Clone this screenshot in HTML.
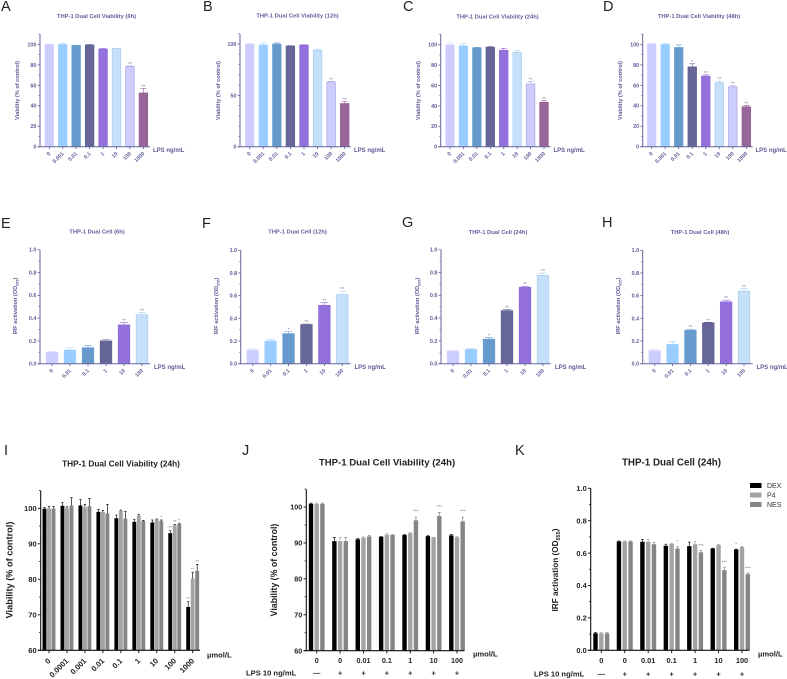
<!DOCTYPE html>
<html lang="en">
<head>
<meta charset="utf-8">
<title>THP-1 Dual Cell Viability and IRF Activation</title>
<style>
html,body{margin:0;padding:0;background:#fff;}
#figure{display:block;width:787px;height:679px;filter:blur(0.3px);font-family:"Liberation Sans",sans-serif;}
.letter{font-size:14.5px;fill:#222;}
.ttl{font-weight:bold;fill:#5f5f9b;font-size:5.8px;text-anchor:middle;}
.ttl2{font-weight:bold;fill:#222;text-anchor:middle;}
</style>
</head>
<body>
<svg id="figure" xmlns="http://www.w3.org/2000/svg" width="787" height="679" viewBox="0 0 787 679">
  <g>
    <text class="letter" x="1" y="11">A</text>
    <text class="letter" x="203" y="11">B</text>
    <text class="letter" x="403" y="11">C</text>
    <text class="letter" x="603" y="11">D</text>
    <text class="letter" x="1" y="228">E</text>
    <text class="letter" x="202" y="228">F</text>
    <text class="letter" x="402" y="227">G</text>
    <text class="letter" x="602" y="227">H</text>
    <text class="letter" x="4" y="455">I</text>
    <text class="letter" x="242" y="455">J</text>
    <text class="letter" x="515" y="455">K</text>
  </g>
  <g>
    <text class="ttl" x="96.5" y="17.8">THP-1 Dual Cell Viability (6h)</text>
    <text class="ttl" x="297.5" y="17.3">THP-1 Dual Cell Viability (12h)</text>
    <text class="ttl" x="497.5" y="18.3">THP-1 Dual Cell Viability (24h)</text>
    <text class="ttl" x="699" y="17.8">THP-1 Dual Cell Viability (48h)</text>
    <text class="ttl" x="97" y="233.3">THP-1 Dual Cell (6h)</text>
    <text class="ttl" x="297.5" y="233.3">THP-1 Dual Cell (12h)</text>
    <text class="ttl" x="498" y="233.8">THP-1 Dual Cell (24h)</text>
    <text class="ttl" x="700" y="233.8">THP-1 Dual Cell (48h)</text>
    <text class="ttl2" x="121" y="466.6" font-size="8.3">THP-1 Dual Cell Viability (24h)</text>
    <text class="ttl2" x="387" y="465.4" font-size="9.6">THP-1 Dual Cell Viability (24h)</text>
    <text class="ttl2" x="671.5" y="465.4" font-size="9.8">THP-1 Dual Cell (24h)</text>
  </g>
  <g>
    <rect x="750" y="483" width="11.5" height="5" fill="#000"/>
    <text x="767" y="488" font-size="7" fill="#333">DEX</text>
    <rect x="750" y="492.5" width="11.5" height="5" fill="#a3a3a3"/>
    <text x="767" y="497.5" font-size="7" fill="#333">P4</text>
    <rect x="750" y="502" width="11.5" height="5" fill="#858585"/>
    <text x="767" y="507" font-size="7" fill="#333">NES</text>
  </g>
  <g id="charts"></g>
</svg>
<script>
// Categories
const viabilityDoses = ['0', '0.001', '0.01', '0.1', '1', '10', '100', '1000'];
const irfDoses = ['0', '0.01', '0.1', '1', '10', '100'];
const drugDoses = ['0', '0.0001', '0.001', '0.01', '0.1', '1', '10', '100', '1000'];
const lpsDoses = ['0', '0', '0.01', '0.1', '1', '10', '100'];
const lpsFlags = ['\u2014', '+', '+', '+', '+', '+', '+'];

// Tick labels
const ticksPct20 = [0, 20, 40, 60, 80, 100];
const ticksPct50 = [0, 50, 100];
const ticksOd = [0, 0.2, 0.4, 0.6, 0.8, 1];
const ticksZoom = [60, 70, 80, 90, 100];

// Panels A-D: viability by LPS dose
const valuesA = [100, 100, 99, 99.5, 95.5, 96, 78.5, 52.5];
const errorsA = [0.2, 1.2, 0.3, 0.4, 0.4, 0.2, 0.5, 4.5];
const starsA = ['', '', '', '', '', '', '**', '**'];
const valuesB = [100, 99, 100, 98, 99, 94, 63, 42];
const errorsB = [0.3, 2, 1, 0.4, 0.4, 1, 0.7, 2];
const starsB = ['', '', '', '', '', '', '**', '**'];
const valuesC = [100, 99, 97, 97.5, 94.5, 92.5, 61.5, 43.5];
const errorsC = [2.5, 2, 0.4, 0.6, 2, 2, 2.5, 1.5];
const starsC = ['', '', '', '', '', '', '**', '**'];
const valuesD = [100.5, 100, 97, 78, 69, 62.5, 58.5, 39];
const errorsD = [0.2, 1, 2.5, 3, 1.3, 1.5, 1.5, 1.5];
const starsD = ['', '', '', '*', '**', '**', '**', '**'];

// Panels E-H: IRF activation by LPS dose
const valuesE = [0.1, 0.12, 0.14, 0.2, 0.34, 0.43];
const errorsE = [0.005, 0.02, 0.02, 0.01, 0.02, 0.02];
const starsE = ['', '', '', '', '**', '**'];
const valuesF = [0.12, 0.2, 0.265, 0.345, 0.515, 0.61];
const errorsF = [0.01, 0.015, 0.02, 0.005, 0.025, 0.03];
const starsF = ['', '', '*', '**', '**', '**'];
const valuesG = [0.11, 0.125, 0.215, 0.465, 0.67, 0.775];
const errorsG = [0.01, 0.01, 0.015, 0.01, 0.01, 0.02];
const starsG = ['', '', '*', '**', '**', '**'];
const valuesH = [0.115, 0.17, 0.295, 0.36, 0.545, 0.64];
const errorsH = [0.01, 0.025, 0.01, 0.005, 0.015, 0.02];
const starsH = ['', '', '**', '**', '**', '**'];

// Panel I: series by drug
const iDex = [99.9, 100.7, 100.8, 99, 97.2, 96.2, 96, 93, 72.2];
const iDexErr = [0.3, 0.9, 1.7, 0.7, 0.9, 0.7, 0.7, 0.7, 1.5];
const iDexStars = ['', '', '', '', '', '', '', '**', '**'];
const iP4 = [99.9, 100, 100.2, 99, 99.3, 97.9, 96.9, 95.2, 80.2];
const iP4Err = [0.6, 0.4, 0.9, 0.4, 0.2, 0.4, 0.1, 0.2, 1.8];
const iP4Stars = ['', '', '', '', '', '', '', '**', '**'];
const iNes = [99.9, 100.8, 100.6, 98.6, 97.1, 96.4, 96.4, 95.6, 82.4];
const iNesErr = [0.6, 2.2, 2.2, 2.5, 2, 0.2, 0.3, 0.2, 1.8];
const iNesStars = ['', '', '', '', '', '', '*', '*', '**'];

// Panel J: series by drug
const jDex = [100.9, 90.5, 91, 91.7, 92.2, 91.9, 92.1];
const jDexErr = [0.2, 1, 0.2, 0.1, 0.2, 0.1, 0.2];
const jDexStars = ['', '', '', '', '', '', ''];
const jP4 = [100.9, 90.5, 91.5, 92.3, 92.7, 91.5, 91.6];
const jP4Err = [0.2, 1, 0.2, 0.3, 0.2, 0.1, 0.2];
const jP4Stars = ['', '', '', '', '', '', ''];
const jNes = [100.9, 90.5, 91.8, 92.2, 96.3, 97.5, 96];
const jNesErr = [0.2, 1, 0.3, 0.1, 0.9, 1, 1.2];
const jNesStars = ['', '', '', '', '***', '***', '***'];

// Panel K: series by drug
const kDex = [0.105, 0.672, 0.67, 0.645, 0.643, 0.628, 0.622];
const kDexErr = [0.005, 0.003, 0.015, 0.01, 0.025, 0.002, 0.002];
const kDexStars = ['', '', '', '', '', '', '*'];
const kP4 = [0.105, 0.672, 0.67, 0.657, 0.655, 0.65, 0.638];
const kP4Err = [0.005, 0.003, 0.015, 0.003, 0.018, 0.003, 0.002];
const kP4Stars = ['', '', '', '', '', '', ''];
const kNes = [0.105, 0.672, 0.655, 0.628, 0.605, 0.495, 0.47];
const kNesErr = [0.005, 0.003, 0.012, 0.012, 0.012, 0.018, 0.007];
const kNesStars = ['', '', '', '*', '***', '***', '***'];

const pastelFills = ['#ccccff', '#99ccff', '#6699cc', '#666699', '#9370db', '#c6e0fa', '#ccccff', '#996699'];
const pastelEdges = ['#d4d4ff', '#a4d2ff', '#6d9fd0', '#5f5f94', '#8d6ad8', '#a9cdf0', '#a8a8e0', '#935f93'];
const NS = 'http://www.w3.org/2000/svg';
const root = document.getElementById('charts');
const PURPLE = '#66669c';
const PURPLE_TEXT = '#5c5c96';

function make(tag, parent, attrs, text) {
  const node = document.createElementNS(NS, tag);
  for (const key in attrs) node.setAttribute(key, attrs[key]);
  if (text !== undefined) node.textContent = text;
  parent.appendChild(node);
  return node;
}
function linearScale(d0, p0, d1, p1) {
  return function (v) { return p0 + (v - d0) * (p1 - p0) / (d1 - d0); };
}
function bandScale(first, last, count) {
  return function (i) { return first + i * (last - first) / (count - 1); };
}
function fmtTick(v, digits) { return v.toFixed(digits); }

function drawAxes(g, cfg, yScale, xScale, cats) {
  const color = cfg.axisColor, tc = cfg.textColor;
  const yAxis = make('line', g, {x1: cfg.axisX, x2: cfg.axisX, y1: cfg.topPx, y2: yScale(cfg.domainMin), stroke: color, 'stroke-width': cfg.axisW});
  
  
  const xAxis = make('line', g, {x1: cfg.axisX - cfg.tickLen, x2: cfg.endX, y1: yScale(cfg.domainMin), y2: yScale(cfg.domainMin), stroke: color, 'stroke-width': cfg.axisW});
  
  
  cfg.ticks.forEach(function (t, idx) {
    const y = yScale(t);
    const tick = make('line', g, {x1: cfg.axisX - cfg.tickLen, x2: cfg.axisX, y1: y, y2: y, stroke: color, 'stroke-width': cfg.axisW * 0.85});
    
    
    const label = make('text', g, {x: cfg.axisX - cfg.tickLen - 1.2, y: y + cfg.tickFont * 0.36, 'font-size': cfg.tickFont, 'font-weight': 'bold', fill: tc, 'text-anchor': 'end'}, fmtTick(t, cfg.tickDigits));
    
    
    if (idx < cfg.ticks.length - 1) {
      const step = (cfg.ticks[idx + 1] - t) / cfg.minorPer;
      for (let m = 1; m < cfg.minorPer; m++) {
        const ym = yScale(t + m * step);
        const minor = make('line', g, {x1: cfg.axisX - cfg.tickLen * 0.6, x2: cfg.axisX, y1: ym, y2: ym, stroke: color, 'stroke-width': cfg.axisW * 0.7});
        
        
      }
    }
  });
  if (cfg.extraMinorTop) {
    const yt = yScale(cfg.extraMinorTop);
    const top = make('line', g, {x1: cfg.axisX - cfg.tickLen * 0.6, x2: cfg.axisX, y1: yt, y2: yt, stroke: color, 'stroke-width': cfg.axisW * 0.7});
    
    
  }
  cats.forEach(function (c, i) {
    const x = xScale(i), y0 = yScale(cfg.domainMin);
    const tick = make('line', g, {x1: x, x2: x, y1: y0, y2: y0 + cfg.tickLen, stroke: color, 'stroke-width': cfg.axisW * 0.85});
    
    
    let label;
    if (cfg.rotateLabels) {
      const lx = x + cfg.rotDx, ly = y0 + cfg.tickLen + cfg.tickFont * 0.9 + cfg.rotDy;
      label = make('text', g, {x: lx, y: ly, 'font-size': cfg.tickFont, 'font-weight': 'bold', fill: tc, 'text-anchor': 'end', transform: 'rotate(-45 ' + lx + ' ' + ly + ')'}, c);
    } else {
      label = make('text', g, {x: x, y: y0 + cfg.tickLen + cfg.tickFont + 2.5, 'font-size': cfg.tickFont, 'font-weight': 'bold', fill: tc, 'text-anchor': 'middle'}, c);
    }
    
    
  });
  const unit = make('text', g, {x: cfg.unitX, y: cfg.unitY, 'font-size': cfg.unitFont, 'font-weight': 'bold', fill: tc}, cfg.unit);
  
  
  const yTitle = make('text', g, {transform: 'translate(' + cfg.yTitleX + ' ' + cfg.yTitleY + ') rotate(-90)', 'font-size': cfg.yTitleFont, 'font-weight': 'bold', fill: tc, 'text-anchor': 'middle'});
  
  
  if (cfg.isOd) {
    make('tspan', yTitle, {}, 'IRF activation (OD');
    make('tspan', yTitle, {'font-size': cfg.yTitleFont * 0.68, dy: cfg.yTitleFont * 0.25}, '655');
    make('tspan', yTitle, {dy: -cfg.yTitleFont * 0.25}, ')');
  } else {
    yTitle.textContent = 'Viability (% of control)';
  }
}

function drawBar(g, x, w, value, err, star, fill, edge, yScale, cfg, barName) {
  const y0 = yScale(cfg.domainMin), y = yScale(value), yErr = yScale(value + err);
  const bar = make('rect', g, {x: x - w / 2, y: y, width: w, height: y0 - y, fill: fill, stroke: edge, 'stroke-width': cfg.barStroke});
  
  
  const capW = w * cfg.capRatio;
  const eb = make('path', g, {d: 'M' + x + ' ' + y + 'V' + yErr + 'M' + (x - capW / 2) + ' ' + yErr + 'H' + (x + capW / 2), fill: 'none', stroke: cfg.errColor || edge, 'stroke-width': cfg.errW});
  
  
  if (star) {
    const s = make('text', g, {x: x, y: yErr - cfg.starGap + 2, 'font-size': cfg.starFont, fill: cfg.starColor, 'text-anchor': 'middle'}, star);
    
    
  }
}

function drawPastel(cfg, cats, values, errors, stars) {
  const g = make('g', root, {});
  
  
  const yScale = linearScale(cfg.refLow, cfg.refLowPx, cfg.refHigh, cfg.refHighPx);
  const xScale = bandScale(cfg.firstX, cfg.lastX, cats.length);
  values.forEach(function (v, i) {
    const fill = pastelFills[i];
    const edge = pastelEdges[i];
    drawBar(g, xScale(i), cfg.barW, v, errors[i], stars[i], fill, edge, yScale, cfg, 'bar-' + cats[i]);
  });
  drawAxes(g, cfg, yScale, xScale, cats);
}

function drawGrouped(cfg, cats, series) {
  const g = make('g', root, {});
  
  
  const yScale = linearScale(cfg.refLow, cfg.refLowPx, cfg.refHigh, cfg.refHighPx);
  const xScale = bandScale(cfg.firstX, cfg.lastX, cats.length);
  series.forEach(function (s, k) {
    s.values.forEach(function (v, i) {
      drawBar(g, xScale(i) + (k - 1) * cfg.barGap, cfg.barW, v, s.errors[i], s.stars[i], s.fill, s.fill, yScale, cfg, s.label + '-bar-' + cats[i]);
    });
  });
  drawAxes(g, cfg, yScale, xScale, cats);
  if (cfg.flags) {
    cfg.flags.forEach(function (f, i) {
      const t = make('text', g, {x: xScale(i), y: cfg.flagY, 'font-size': cfg.tickFont, 'font-weight': 'bold', fill: '#222', 'text-anchor': 'middle'}, f);
      
      
    });
    const lab = make('text', g, {x: cfg.lpsX, y: cfg.flagY, 'font-size': cfg.lpsFont, 'font-weight': 'bold', fill: '#222'}, 'LPS 10 ng/mL');
    
    
  }
}

const pastelBase = {
  axisColor: PURPLE, textColor: PURPLE_TEXT, axisW: 1, tickLen: 2.4, tickFont: 5.4, unitFont: 6, yTitleFont: 5.6,
  barStroke: 0.7, capRatio: 0.7, errW: 0.6, starFont: 5, starGap: 2, starColor: '#8888aa',
  rotateLabels: true, rotDx: 1.5, rotDy: 0, domainMin: 0, unit: 'LPS ng/mL'
};
const viabBase = Object.assign({}, pastelBase, {
  refLow: 0, refLowPx: 146.7, refHigh: 100, barW: 8.6, topPx: 34, ticks: ticksPct20, tickDigits: 0, minorPer: 2, extraMinorTop: 110, unitY: 152
});
const odBase = Object.assign({}, pastelBase, {
  refLow: 0, refLowPx: 363.7, refHigh: 1, barW: 11.6, tickDigits: 1, ticks: ticksOd, minorPer: 2, isOd: true, unitY: 369
});

drawPastel(Object.assign({}, viabBase, {name: 'panel-a-chart', refHighPx: 44.4, axisX: 40, endX: 150, firstX: 49.3, lastX: 143.4, unitX: 153, yTitleX: 19, yTitleY: 90.5}), viabilityDoses, valuesA, errorsA, starsA);
drawPastel(Object.assign({}, viabBase, {name: 'panel-b-chart', refHighPx: 44, axisX: 240, endX: 350.7, firstX: 249.7, lastX: 344.7, ticks: ticksPct50, minorPer: 5, unitX: 354, yTitleX: 220, yTitleY: 90.5}), viabilityDoses, valuesB, errorsB, starsB);
drawPastel(Object.assign({}, viabBase, {name: 'panel-c-chart', refHighPx: 44.7, axisX: 440.7, endX: 550.7, firstX: 450, lastX: 544, unitX: 553.5, yTitleX: 420, yTitleY: 90.5}), viabilityDoses, valuesC, errorsC, starsC);
drawPastel(Object.assign({}, viabBase, {name: 'panel-d-chart', refHighPx: 44.4, axisX: 642.7, endX: 752.7, firstX: 651.7, lastX: 746.3, unitX: 755.5, yTitleX: 622, yTitleY: 90.5}), viabilityDoses, valuesD, errorsD, starsD);

drawPastel(Object.assign({}, odBase, {name: 'panel-e-chart', refHighPx: 249.7, topPx: 249.7, axisX: 40, endX: 150, firstX: 52, lastX: 142, unitX: 154, yTitleX: 17, yTitleY: 306}), irfDoses, valuesE, errorsE, starsE);
drawPastel(Object.assign({}, odBase, {name: 'panel-f-chart', refHighPx: 250.3, topPx: 250.3, axisX: 240.7, endX: 350.7, firstX: 252.7, lastX: 342.3, unitX: 354.5, yTitleX: 218, yTitleY: 306}), irfDoses, valuesF, errorsF, starsF);
drawPastel(Object.assign({}, odBase, {name: 'panel-g-chart', refHighPx: 249.7, topPx: 249.7, axisX: 441, endX: 550.7, firstX: 453, lastX: 543, unitX: 555, yTitleX: 419, yTitleY: 306}), irfDoses, valuesG, errorsG, starsG);
drawPastel(Object.assign({}, odBase, {name: 'panel-h-chart', refHighPx: 250.3, topPx: 250.3, axisX: 642.7, endX: 752.7, firstX: 654.7, lastX: 744, unitX: 756.5, yTitleX: 620, yTitleY: 306}), irfDoses, valuesH, errorsH, starsH);

const grayBase = {
  axisColor: '#111', textColor: '#222', axisW: 1.1, tickLen: 2.8, barStroke: 0, capRatio: 0.6, errW: 0.7,
  starColor: '#777', starFont: 4.6, unit: '\u00b5mol/L', rotDx: 2, rotDy: 1.5
};
const fillDex = '#000000', fillP4 = '#a3a3a3', fillNes = '#858585';

drawGrouped(Object.assign({}, grayBase, {
  name: 'panel-i-chart', refLow: 60, refLowPx: 650.3, refHigh: 100, refHighPx: 508.3, domainMin: 60, topPx: 490.7,
  ticks: ticksZoom, tickDigits: 0, minorPer: 2, extraMinorTop: 105, axisX: 40.7, endX: 200, firstX: 49, lastX: 192.7,
  barW: 3.9, barGap: 4.5, tickFont: 7.6, unitFont: 7.6, unitX: 207, unitY: 657.5, yTitleFont: 9.2, yTitleX: 12.5, yTitleY: 570, rotateLabels: true, errColor: '#111', starGap: 3.5
}), drugDoses, [
  {label: 'dex', fill: fillDex, values: iDex, errors: iDexErr, stars: iDexStars},
  {label: 'p4', fill: fillP4, values: iP4, errors: iP4Err, stars: iP4Stars},
  {label: 'nes', fill: fillNes, values: iNes, errors: iNesErr, stars: iNesStars}
]);

drawGrouped(Object.assign({}, grayBase, {
  name: 'panel-j-chart', refLow: 60, refLowPx: 650.7, refHigh: 100, refHighPx: 507, domainMin: 60, topPx: 489.3,
  ticks: ticksZoom, tickDigits: 0, minorPer: 2, extraMinorTop: 105, axisX: 306.3, endX: 464.3, firstX: 316.7, lastX: 457,
  barW: 4.4, barGap: 5.7, tickFont: 7.2, unitFont: 7.6, unitX: 473, unitY: 656.5, yTitleFont: 8.8, yTitleX: 277, yTitleY: 570,
  flags: lpsFlags, flagY: 675.5, lpsX: 246, lpsFont: 7.6, starGap: 6.5
}), lpsDoses, [
  {label: 'dex', fill: fillDex, values: jDex, errors: jDexErr, stars: jDexStars},
  {label: 'p4', fill: fillP4, values: jP4, errors: jP4Err, stars: jP4Stars},
  {label: 'nes', fill: fillNes, values: jNes, errors: jNesErr, stars: jNesStars}
]);

drawGrouped(Object.assign({}, grayBase, {
  name: 'panel-k-chart', refLow: 0, refLowPx: 650.3, refHigh: 1, refHighPx: 488.3, domainMin: 0, topPx: 488.3,
  ticks: ticksOd, tickDigits: 1, minorPer: 2, isOd: true, axisX: 590.7, endX: 749.3, firstX: 601.3, lastX: 742,
  barW: 4.4, barGap: 5.8, tickFont: 7.4, unitFont: 7.6, unitX: 758, unitY: 656.5, yTitleFont: 8.2, yTitleX: 558, yTitleY: 570,
  flags: lpsFlags, flagY: 676.5, lpsX: 534, lpsFont: 7.6, starGap: 5.5
}), lpsDoses, [
  {label: 'dex', fill: fillDex, values: kDex, errors: kDexErr, stars: kDexStars},
  {label: 'p4', fill: fillP4, values: kP4, errors: kP4Err, stars: kP4Stars},
  {label: 'nes', fill: fillNes, values: kNes, errors: kNesErr, stars: kNesStars}
]);
</script>
</body>
</html>
